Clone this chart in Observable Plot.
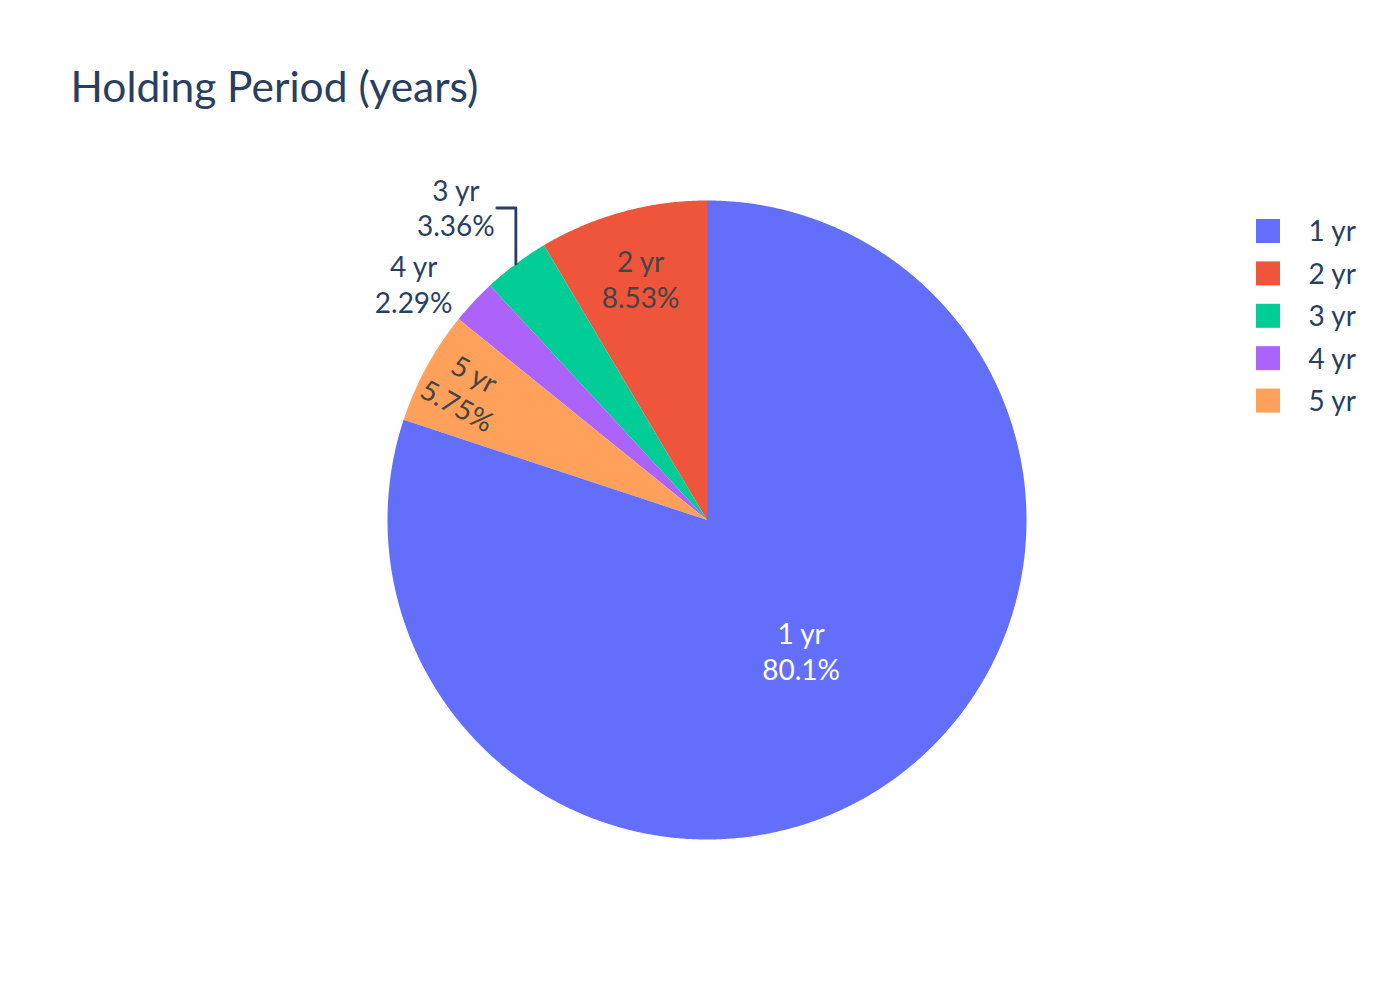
<!DOCTYPE html>
<html>
<head>
<meta charset="utf-8">
<script src="https://cdn.jsdelivr.net/npm/d3@7"></script>
<script src="https://cdn.jsdelivr.net/npm/@observablehq/plot@0.6"></script>
<style>
  body { margin: 0; background: #fff; }
  #chart { width: 1400px; height: 1000px; }
</style>
</head>
<body>
<div id="chart"></div>
<script>
// ---- data ----
const title = "Holding Period (years)";
const categories = ["1 yr", "2 yr", "3 yr", "4 yr", "5 yr"];
const percents = [80.1, 8.53, 3.36, 2.29, 5.75];
// slice order counter-clockwise from 12 o'clock
const sliceOrder = ["2 yr", "3 yr", "4 yr", "5 yr", "1 yr"];
const colors = ["#636efa", "#ef553b", "#00cc96", "#ab63fa", "#ffa15a"];

// ---- layout ----
const W = 1400, H = 1000, CX = 706.5, CY = 519.5, R = 319.5;
const FONT = "Lato, 'Open Sans', sans-serif";
const px2x = (px) => (px - CX) / R;
const py2y = (py) => (CY - py) / R;

const pct = new Map(categories.map((c, i) => [c, percents[i]]));
const total = d3.sum(percents);

// slice geometry (fractions counter-clockwise from top)
const polar = (f, r) => ({x: -r * Math.sin(2 * Math.PI * f), y: r * Math.cos(2 * Math.PI * f)});
let acc = 0;
const slices = sliceOrder.map((c) => {
  const f0 = acc / total; acc += pct.get(c); const f1 = acc / total;
  return {cat: c, f0, f1, mid: (f0 + f1) / 2};
});
const slicePoints = [];
for (const s of slices) {
  slicePoints.push({cat: s.cat, x: 0, y: 0});
  const n = Math.max(4, Math.ceil((s.f1 - s.f0) / 0.001));
  for (let k = 0; k <= n; ++k) {
    const p = polar(s.f0 + (s.f1 - s.f0) * k / n, 1);
    slicePoints.push({cat: s.cat, ...p});
  }
  slicePoints.push({cat: s.cat, x: 0, y: 0});
}
const S = new Map(slices.map((s) => [s.cat, s]));
const txt = (c) => `${c}\n${pct.get(c)}%`;

// inside labels
const inside = [
  {cat: "1 yr", r: 0.503, rot: 0, color: "#ffffff"},
  {cat: "2 yr", r: 0.785, rot: 0, color: "#444444"},
  {cat: "5 yr", r: 0.858, rot: null, color: "#444444"}
].map((d) => {
  const s = S.get(d.cat);
  const p = polar(s.mid, d.r);
  const rot = d.rot === null ? 90 - s.mid * 360 : d.rot;
  return {...d, ...p, rot, text: txt(d.cat)};
});

// outside labels
const e3 = polar(S.get("3 yr").mid, 1);
const leader = [
  {x: e3.x, y: e3.y},
  {x: e3.x, y: e3.y + 56 / R},
  {x: e3.x - 19 / R, y: e3.y + 56 / R}
];
const e4 = polar(S.get("4 yr").mid, 1);
const outside = [
  {cat: "3 yr", x: leader[2].x - 41 / R, y: leader[2].y + 1 / R, text: txt("3 yr"), rot: 0},
  {cat: "4 yr", x: e4.x - 60 / R, y: e4.y + 18 / R, text: txt("4 yr"), rot: 0}
];

// legend rows
const legendRows = categories.map((c, i) => ({
  cat: c,
  x1: px2x(1256), x2: px2x(1280),
  y1: py2y(219 + i * 42.4), y2: py2y(243 + i * 42.4),
  tx: px2x(1308), ty: py2y(232 + i * 42.4)
}));

const textOpts = {fontSize: 28, fontFamily: FONT, lineHeight: 1.286, textAnchor: "middle", lineAnchor: "middle"};

const chart = Plot.plot({
  width: W, height: H,
  margin: 0,
  style: {fontFamily: FONT, background: "#fff", overflow: "visible"},
  x: {domain: [-CX / R, (W - CX) / R], range: [0, W], axis: null},
  y: {domain: [-(H - CY) / R, CY / R], range: [H, 0], axis: null},
  color: {domain: categories, range: colors},
  marks: [
    Plot.line(slicePoints, {x: "x", y: "y", z: "cat", fill: "cat", stroke: "none", curve: "linear"}),
    ...["#ffffff", "#444444"].map((col) =>
      Plot.text(inside.filter((d) => d.color === col), {
        x: "x", y: "y", text: "text", rotate: "rot", fill: col, ...textOpts
      })
    ),
    Plot.line(leader, {x: "x", y: "y", stroke: "#2a3f5f", strokeWidth: 2.8}),
    Plot.text(outside, {x: "x", y: "y", text: "text", fill: "#2a3f5f", ...textOpts}),
    Plot.rect(legendRows, {x1: "x1", x2: "x2", y1: "y1", y2: "y2", fill: "cat"}),
    Plot.text(legendRows, {x: "tx", y: "ty", text: "cat", fill: "#2a3f5f", fontSize: 28, fontFamily: FONT, textAnchor: "start", lineAnchor: "middle"}),
    Plot.text([title], {frameAnchor: "top-left", dx: 70, dy: 101, text: (d) => d, fill: "#2a3f5f", fontSize: 42.5, fontFamily: FONT, textAnchor: "start", lineAnchor: "bottom"})
  ]
});
document.getElementById("chart").appendChild(chart);
</script>
</body>
</html>
